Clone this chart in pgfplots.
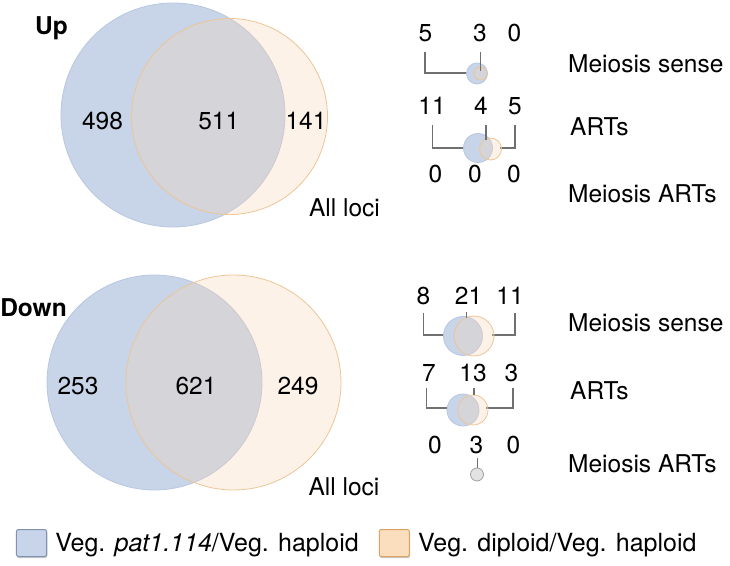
\documentclass[border=0pt]{standalone}
\usepackage{fontspec}
\setmainfont{TeX Gyre Heros}
\usepackage{pgfplots}
\pgfplotsset{compat=1.18}
\definecolor{bfill}{RGB}{200,212,232}
\definecolor{bedge}{RGB}{184,199,224}
\definecolor{ofill}{RGB}{246,212,180}
\definecolor{oedge}{RGB}{236,198,150}
\definecolor{lgray}{RGB}{112,112,112}
\definecolor{lbfill}{RGB}{200,212,234}
\definecolor{lbedge}{RGB}{128,146,178}
\definecolor{lofill}{RGB}{250,222,190}
\definecolor{loedge}{RGB}{222,162,100}
\definecolor{gfill}{RGB}{226,226,226}
\definecolor{gedge}{RGB}{160,160,160}
\newcommand\f{\fontsize{24.5}{29}\selectfont}
\newcommand\lf{\fontsize{25}{29}\selectfont}
\pgfplotsset{
  bc/.style={only marks, mark=*, mark size=#1, mark options={fill=bfill, draw=bedge, line width=0.8pt}},
  oc/.style={only marks, mark=*, mark size=#1, mark options={fill=ofill, fill opacity=0.3, draw=oedge, draw opacity=1, line width=0.8pt}},
  br/.style={lgray, line width=1.4pt, no marks, forget plot},
  brf/.style={lgray, line width=1.4pt, no marks, forget plot, on layer=axis foreground},
}
\begin{document}
\begin{tikzpicture}
\begin{axis}[x=1pt, y=1pt, xmin=0, xmax=730, ymin=0, ymax=565, y dir=reverse,
  hide axis, clip=false, set layers=standard,
  legend columns=2,
  legend style={at={(axis cs:16,543.5)}, anchor=west, draw=none, fill=none,
    inner sep=0pt, outer sep=0pt, font=\lf,
    /tikz/every odd column/.append style={column sep=6pt},
    /tikz/every even column/.append style={column sep=18pt},
    cells={anchor=west}},
]
% ---------- Up: all loci ----------
\addplot[bc=112, legend image code/.code={
  \fill[black!22, rounded corners=2pt] (0.6pt,-14.8pt) rectangle (30.6pt,12.2pt);
  \draw[fill=lbfill, draw=lbedge, line width=1pt, rounded corners=2pt] (0pt,-13.5pt) rectangle (30pt,13.5pt);}]
  coordinates {(173,115)};
\addlegendentry{Veg. \textit{pat1.114}/Veg. haploid}
\addplot[oc=98, legend image code/.code={
  \fill[black!22, rounded corners=2pt] (0.6pt,-14.8pt) rectangle (30.6pt,12.2pt);
  \draw[fill=lofill, draw=loedge, line width=1pt, rounded corners=2pt] (0pt,-13.5pt) rectangle (30pt,13.5pt);}]
  coordinates {(229.5,116.5)};
\addlegendentry{Veg. diploid/Veg. haploid}
% ---------- Down: all loci ----------
\addplot[bc=107.5, forget plot] coordinates {(154.5,382.5)};
\addplot[oc=107.5, forget plot] coordinates {(233.5,382.5)};
% ---------- Up: small ----------
\addplot[br] coordinates {(425,52) (425,73) (470,73)};
\addplot[bc=10.5, forget plot] coordinates {(477,73.5)};
\addplot[oc=6.5, forget plot] coordinates {(480.5,73.5)};
\addplot[brf] coordinates {(480.7,52) (480.7,71)};
\addplot[br] coordinates {(432.7,125) (432.7,148) (466,148)};
\addplot[br] coordinates {(500,148) (515,148) (515,125)};
\addplot[bc=14.5, forget plot] coordinates {(478,148)};
\addplot[oc=11, forget plot] coordinates {(490.5,149)};
\addplot[brf] coordinates {(486,125) (486,140)};
% ---------- Down: small ----------
\addplot[br] coordinates {(423.3,313) (423.3,335) (445,335)};
\addplot[br] coordinates {(492,335) (515,335) (515,313)};
\addplot[bc=19.5, forget plot] coordinates {(463,336)};
\addplot[oc=20, forget plot] coordinates {(474,336)};
\addplot[brf] coordinates {(466.7,312) (466.7,318)};
\addplot[br] coordinates {(426.7,388) (426.7,408) (449,408)};
\addplot[br] coordinates {(486,408) (513,408) (513,388)};
\addplot[bc=16, forget plot] coordinates {(463,410)};
\addplot[oc=15, forget plot] coordinates {(473,410)};
\addplot[brf] coordinates {(474,388) (474,395)};
\addplot[br] coordinates {(477.3,458) (477.3,468)};
\addplot[only marks, mark=*, mark size=6.5, mark options={fill=gfill, draw=gedge, line width=0.8pt}, forget plot] coordinates {(477,474.5)};
% ---------- texts ----------
\begin{pgfonlayer}{axis foreground}
\begin{scope}[every node/.style={inner sep=0pt, anchor=base, font=\f}]
\node[font=\f\bfseries] at (axis cs:51.5,34.5) {Up};
\node at (axis cs:102.5,130) {498};
\node at (axis cs:218.7,130) {511};
\node at (axis cs:306,130) {141};
\node at (axis cs:344.5,217) {All loci};
\node at (axis cs:425.5,42) {5};
\node at (axis cs:480,42) {3};
\node at (axis cs:514.5,42) {0};
\node at (axis cs:432,115) {11};
\node at (axis cs:481,115) {4};
\node at (axis cs:515,115) {5};
\node at (axis cs:435.5,183) {0};
\node at (axis cs:475,183) {0};
\node at (axis cs:514,183) {0};
\node[anchor=base west] at (axis cs:568,73) {Meiosis sense};
\node[anchor=base west] at (axis cs:570,136) {ARTs};
\node[anchor=base west] at (axis cs:568,203) {Meiosis ARTs};
\node[font=\f\bfseries] at (axis cs:33.5,317) {Down};
\node at (axis cs:78,394) {253};
\node at (axis cs:196,394) {621};
\node at (axis cs:298,394) {249};
\node at (axis cs:344,495) {All loci};
\node at (axis cs:423.5,305) {8};
\node at (axis cs:468.5,305) {21};
\node at (axis cs:510,305) {11};
\node at (axis cs:429,382) {7};
\node at (axis cs:473,382) {13};
\node at (axis cs:511.5,382) {3};
\node at (axis cs:435,453) {0};
\node at (axis cs:476.5,453) {3};
\node at (axis cs:513.5,453) {0};
\node[anchor=base west] at (axis cs:568,332) {Meiosis sense};
\node[anchor=base west] at (axis cs:570,400) {ARTs};
\node[anchor=base west] at (axis cs:568,472) {Meiosis ARTs};
\end{scope}
\end{pgfonlayer}
\end{axis}
\pgfresetboundingbox
\path (0,0) rectangle (730pt,565pt);
\end{tikzpicture}
\end{document}
